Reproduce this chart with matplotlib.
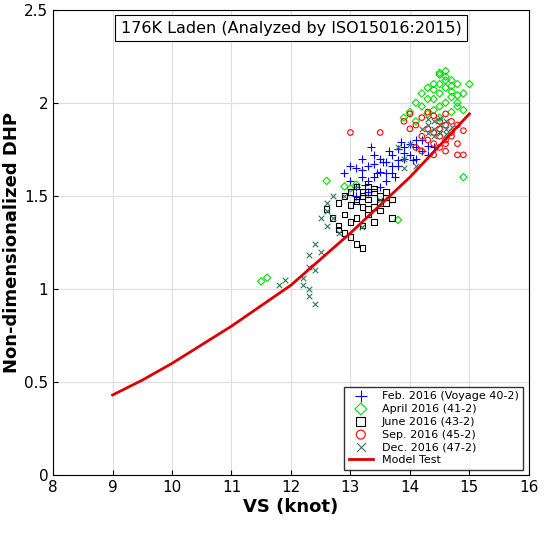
import matplotlib
matplotlib.use("Agg")
import matplotlib.pyplot as plt

feb_x = [12.9,13.0,13.1,13.1,13.2,13.2,13.3,13.3,13.4,13.4,13.5,13.5,13.6,13.6,13.7,13.7,13.8,13.8,13.9,13.9,14.0,14.0,14.1,14.1,14.2,14.2,14.3,14.3,14.4,13.0,13.2,13.4,13.6,13.8,13.3,13.5,13.7,13.9,14.1,13.1,13.25,13.45,13.65,13.85,14.05,13.35,13.55,13.75]
feb_y = [1.62,1.58,1.65,1.55,1.70,1.60,1.66,1.52,1.72,1.60,1.63,1.55,1.68,1.58,1.72,1.62,1.75,1.66,1.70,1.76,1.78,1.72,1.76,1.70,1.80,1.74,1.77,1.72,1.76,1.66,1.64,1.67,1.62,1.69,1.58,1.70,1.66,1.73,1.80,1.50,1.56,1.62,1.74,1.79,1.69,1.76,1.68,1.60]
apr_x = [14.0,14.1,14.2,14.2,14.3,14.3,14.4,14.4,14.5,14.5,14.5,14.6,14.6,14.6,14.7,14.7,14.8,14.8,14.9,14.9,15.0,14.4,14.5,14.6,14.7,14.8,14.3,14.5,14.7,14.1,13.9,14.6,14.5,14.8,12.9,13.0,13.1,12.6,11.6,11.5,14.9,13.8,14.4,14.7]
apr_y = [1.95,2.00,1.98,2.05,2.02,2.08,2.10,1.96,2.15,2.05,1.98,2.17,2.08,2.00,2.12,2.03,2.10,1.98,2.05,1.96,2.10,2.02,2.10,2.14,2.06,2.00,1.94,1.92,1.95,1.90,1.92,2.12,2.16,2.04,1.55,1.54,1.56,1.58,1.06,1.04,1.60,1.37,2.07,2.09]
jun_x = [12.6,12.7,12.8,12.8,12.9,12.9,13.0,13.0,13.0,13.1,13.1,13.1,13.2,13.2,13.2,13.3,13.3,13.3,13.4,13.4,13.5,13.5,13.6,13.6,13.7,13.7,12.9,13.0,13.1,13.2,13.3,13.4,13.1,13.2,12.8,13.3,13.4,13.5]
jun_y = [1.43,1.38,1.46,1.34,1.50,1.40,1.52,1.45,1.36,1.55,1.47,1.38,1.52,1.44,1.34,1.55,1.48,1.40,1.52,1.44,1.50,1.42,1.52,1.46,1.48,1.38,1.30,1.28,1.48,1.50,1.43,1.36,1.24,1.22,1.32,1.52,1.54,1.46]
sep_x = [13.0,13.5,13.9,14.0,14.1,14.2,14.2,14.3,14.3,14.4,14.4,14.5,14.5,14.6,14.6,14.7,14.7,14.8,14.8,14.9,14.3,14.4,14.5,14.6,14.7,14.2,14.4,14.6,14.8,14.1,14.0,14.9,14.5,14.6]
sep_y = [1.84,1.84,1.90,1.86,1.88,1.92,1.82,1.95,1.80,1.93,1.78,1.90,1.76,1.94,1.80,1.90,1.82,1.88,1.78,1.72,1.86,1.84,1.86,1.88,1.84,1.74,1.72,1.74,1.72,1.76,1.94,1.85,1.82,1.78]
dec_x = [14.2,14.3,14.3,14.4,14.4,14.5,14.5,14.6,14.6,14.7,14.4,14.5,14.3,14.6,14.0,13.9,13.8,14.1,13.9,12.7,12.6,12.6,12.5,12.6,12.7,12.8,12.4,12.5,12.3,12.3,12.4,12.2,12.2,12.3,11.9,11.8,12.3,12.4,12.9,13.2,13.5]
dec_y = [1.86,1.88,1.84,1.90,1.86,1.88,1.84,1.90,1.86,1.87,1.82,1.92,1.91,1.83,1.78,1.70,1.76,1.66,1.65,1.50,1.46,1.42,1.38,1.34,1.38,1.30,1.24,1.20,1.18,1.12,1.10,1.06,1.02,1.00,1.05,1.02,0.96,0.92,1.50,1.33,1.48]
model_x = [9,9.5,10,10.5,11,11.5,12,12.5,13,13.5,14,14.5,15]
model_y = [0.43,0.51,0.60,0.70,0.80,0.91,1.02,1.16,1.30,1.45,1.60,1.77,1.94]

fig = plt.figure(figsize=(5.59,5.35), dpi=100)
ax = fig.add_axes([0.095, 0.112, 0.851, 0.87])
ax.grid(True, color="#dddddd", lw=0.8)
ax.set_axisbelow(True)
ax.scatter(feb_x, feb_y, marker="+", c="blue", s=30, lw=0.8, label="Feb. 2016 (Voyage 40-2)")
ax.scatter(apr_x, apr_y, marker="D", facecolors="none", edgecolors="#00e000", s=14, lw=0.8, label="April 2016 (41-2)")
ax.scatter(jun_x, jun_y, marker="s", facecolors="none", edgecolors="black", s=16, lw=0.8, label="June 2016 (43-2)")
ax.scatter(sep_x, sep_y, marker="o", facecolors="none", edgecolors="red", s=16, lw=0.8, label="Sep. 2016 (45-2)")
ax.scatter(dec_x, dec_y, marker="x", c="#2e7a5a", s=16, lw=0.8, label="Dec. 2016 (47-2)")
ax.plot(model_x, model_y, color="#dd0000", lw=2, label="Model Test")
ax.set_xlim(8,16); ax.set_ylim(0,2.5)
ax.set_xticks(range(8,17)); ax.set_yticks([0,0.5,1,1.5,2,2.5])
ax.set_yticklabels(["0","0.5","1","1.5","2","2.5"])
ax.tick_params(labelsize=11, direction="in")
ax.set_xlabel("VS (knot)", fontsize=13, fontweight="bold", labelpad=2)
ax.set_ylabel("Non-dimensionalized DHP", fontsize=13, fontweight="bold", labelpad=2)
ax.text(12, 2.4, "176K Laden (Analyzed by ISO15016:2015)", ha="center", va="center", fontsize=11.5,
        bbox=dict(boxstyle="square,pad=0.35", fc="white", ec="black", lw=0.8))
ax.legend(loc="lower right", fontsize=8, frameon=True, fancybox=False, edgecolor="black",
          markerscale=1.6, handlelength=2.2, borderpad=0.4, labelspacing=0.25)
fig.savefig("out.png", dpi=100)
